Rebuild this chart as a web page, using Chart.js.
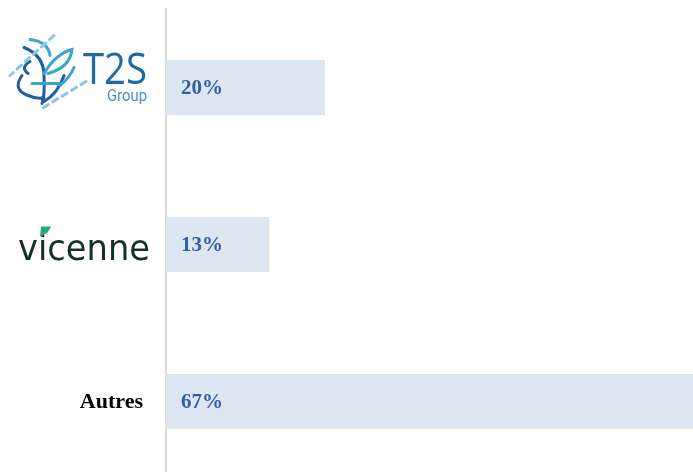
<!DOCTYPE html>
<html>
<head>
<meta charset="utf-8">
<script src="https://cdn.jsdelivr.net/npm/chart.js@4"></script>
<style>
  html, body { margin: 0; padding: 0; background: #fff; overflow: hidden; }
  #wrap { width: 693px; height: 490px; }
</style>
</head>
<body>
<div id="wrap"><canvas id="c"></canvas></div>
<script>
const categories = ['T2S Group', 'vicenne', 'Autres']
const shares = [20, 13, 67]
const shareLabels = ['20%', '13%', '67%']

// draws the category labels (two logos as text + "Autres")
const labelPlugin = {
    id: 'labels',
    afterDraw(chart) {
        const ctx = chart.ctx
        const y = chart.scales.y
        ctx.save()

        // T2S Group
        let cy = y.getPixelForValue(0)
        ctx.textBaseline = 'alphabetic'
        ctx.textAlign = 'left'
        ctx.fillStyle = '#1d6aa5'
        ctx.font = '500 43px "Open Sans", sans-serif'
        let w = ctx.measureText('T2S').width
        ctx.save()
        ctx.translate(83, cy - 4)
        ctx.scale(64 / w, 1)
        ctx.fillText('T2S', 0, 0)
        ctx.restore()
        ctx.fillStyle = '#4a8fbf'
        ctx.font = '16px Roboto, sans-serif'
        w = ctx.measureText('Group').width
        ctx.save()
        ctx.translate(107, cy + 13)
        ctx.scale(40 / w, 1)
        ctx.fillText('Group', 0, 0)
        ctx.restore()

        // leaf mark
        ctx.lineCap = 'round'
        ctx.lineWidth = 3
        ctx.strokeStyle = '#1f5f9e'
        ctx.beginPath()
        ctx.moveTo(24, cy - 40); ctx.quadraticCurveTo(44, cy - 32, 44, cy - 12)
        ctx.moveTo(44, cy - 12); ctx.quadraticCurveTo(45, cy + 8, 42, cy + 16)
        ctx.moveTo(22, cy - 12); ctx.quadraticCurveTo(12, cy + 2, 28, cy + 8)
        ctx.quadraticCurveTo(38, cy + 12, 44, cy + 10)
        ctx.moveTo(64, cy - 12); ctx.quadraticCurveTo(58, cy + 6, 44, cy + 14)
        ctx.moveTo(30, cy - 26); ctx.quadraticCurveTo(20, cy - 20, 28, cy - 14)
        ctx.stroke()
        ctx.strokeStyle = '#3aa6d0'
        ctx.beginPath()
        ctx.moveTo(44, cy - 14); ctx.quadraticCurveTo(56, cy - 34, 72, cy - 38)
        ctx.quadraticCurveTo(70, cy - 20, 48, cy - 14)
        ctx.moveTo(30, cy - 48); ctx.quadraticCurveTo(48, cy - 46, 50, cy - 32)
        ctx.moveTo(32, cy - 4); ctx.lineTo(58, cy - 4)
        ctx.moveTo(60, cy - 2); ctx.quadraticCurveTo(70, cy - 10, 74, cy - 20)
        ctx.stroke()
        ctx.strokeStyle = '#8cc6e4'
        ctx.lineWidth = 3
        ctx.setLineDash([6, 5])
        ctx.beginPath()
        ctx.moveTo(54, cy - 52); ctx.lineTo(10, cy - 12)
        ctx.moveTo(86, cy - 6); ctx.lineTo(42, cy + 21)
        ctx.stroke()
        ctx.setLineDash([])

        // vicenne
        cy = y.getPixelForValue(1)
        ctx.fillStyle = '#15302a'
        ctx.font = '36px "DejaVu Sans", sans-serif'
        w = ctx.measureText('vicenne').width
        ctx.save()
        ctx.translate(18, cy + 15)
        ctx.scale(132 / w, 1)
        ctx.fillText('vicenne', 0, 0)
        ctx.restore()
        ctx.fillStyle = '#ffffff'
        ctx.fillRect(36, cy - 22, 14, 10)
        ctx.fillStyle = '#2aa876'
        ctx.beginPath()
        ctx.moveTo(40, cy - 8); ctx.lineTo(41, cy - 18); ctx.lineTo(51, cy - 18)
        ctx.quadraticCurveTo(48, cy - 10, 40, cy - 8)
        ctx.fill()

        // Autres
        cy = y.getPixelForValue(2)
        ctx.fillStyle = '#000'
        ctx.textAlign = 'right'
        ctx.textBaseline = 'middle'
        ctx.font = 'bold 22px "Liberation Serif", serif'
        ctx.fillText(categories[2], 143, cy + 1)
        ctx.restore()
    },
    afterDatasetsDraw(chart) {
        const ctx = chart.ctx
        ctx.save()
        ctx.fillStyle = '#2f5fa7'
        ctx.font = 'bold 21px "Liberation Serif", serif'
        ctx.textAlign = 'left'
        ctx.textBaseline = 'middle'
        chart.getDatasetMeta(0).data.forEach((bar, i) => {
            ctx.fillText(shareLabels[i], bar.base + 15, bar.y + 1)
        })
        ctx.restore()
    }
}

new Chart(document.getElementById('c'), {
    type: 'bar',
    data: {
        labels: categories,
        datasets: [{
            data: shares,
            backgroundColor: '#dce6f1',
            borderWidth: 0,
            barPercentage: 0.35,
            categoryPercentage: 1
        }]
    },
    options: {
        indexAxis: 'y',
        responsive: true,
        maintainAspectRatio: false,
        animation: false,
        layout: { padding: { left: 158, top: 9, bottom: 10, right: 0 } },
        plugins: { legend: { display: false }, tooltip: { enabled: false } },
        scales: {
            x: { display: false, min: 0, max: 66.3 },
            y: {
                ticks: { display: false },
                grid: { display: false },
                border: { display: true, color: '#d9d9d9', width: 2 }
            }
        }
    },
    plugins: [labelPlugin]
})
</script>
</body>
</html>
